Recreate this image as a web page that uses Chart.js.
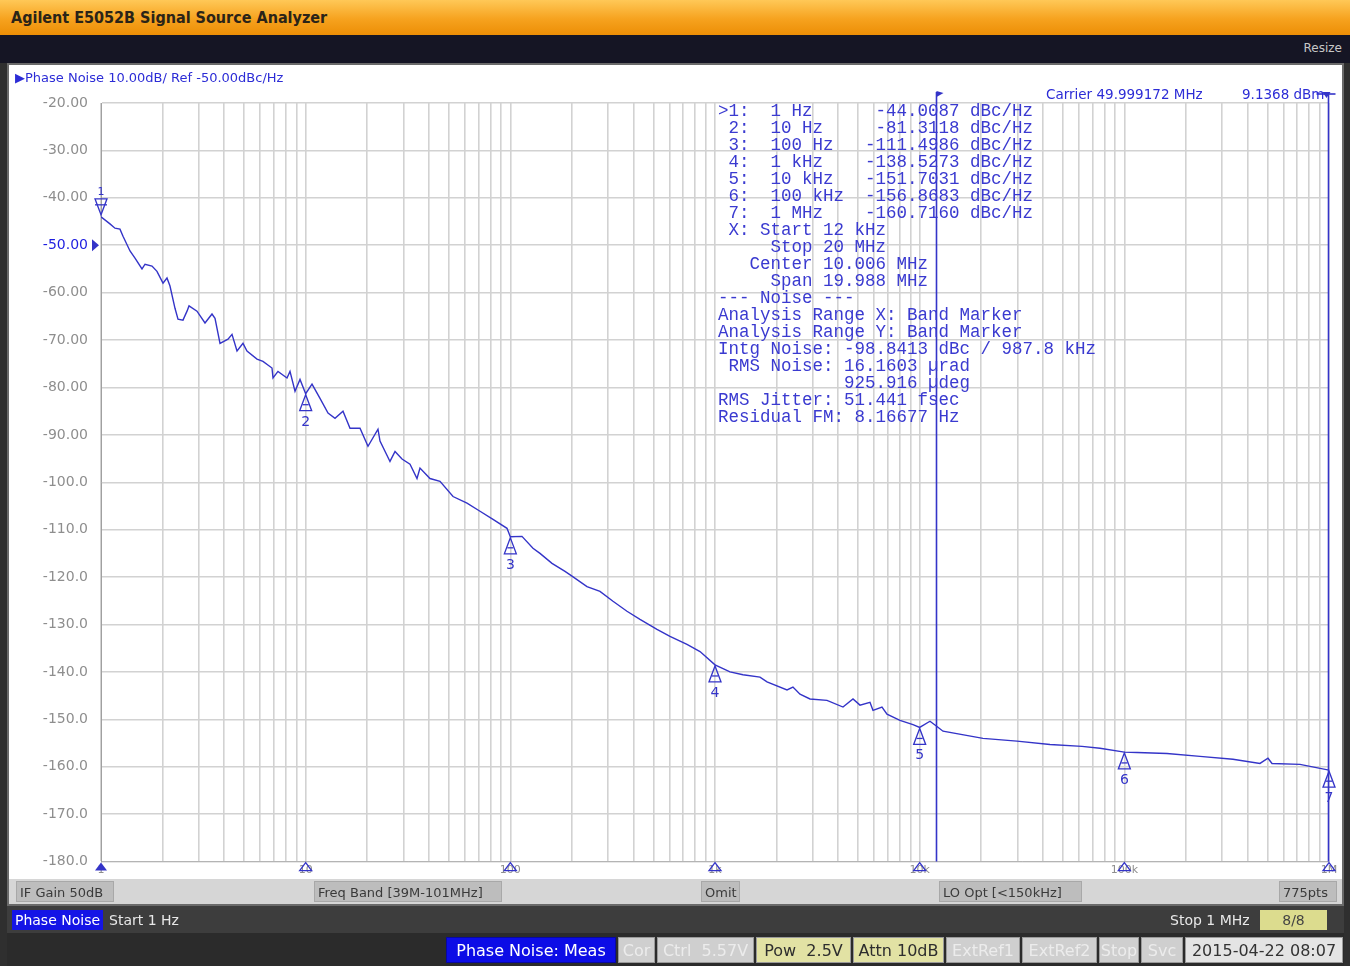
<!DOCTYPE html>
<html>
<head>
<meta charset="utf-8">
<title>E5052B Phase Noise</title>
<script src="https://cdn.jsdelivr.net/npm/chart.js@4.4.1/dist/chart.umd.min.js"></script>
<style>
  body { margin: 0; width: 1350px; height: 966px; background: #2f2f2f; position: relative; overflow: hidden; font-family: "DejaVu Sans", sans-serif; }
  .abs { position: absolute; box-sizing: border-box; white-space: pre; }
  #title { left: 0; top: 0; width: 1350px; height: 35px; background: linear-gradient(#ffc857, #f6a21e 55%, #ec8e06); }
  #title span { position: absolute; left: 11px; top: 8px; font: bold 16px "DejaVu Sans Condensed", "DejaVu Sans", sans-serif; color: #2b2418; }
  #menubar { left: 0; top: 35px; width: 1350px; height: 28px; background: #151524; }
  #menubar span { position: absolute; right: 8px; top: 6px; font-size: 12px; color: #c8c8c8; }
  #panel { left: 7px; top: 63px; width: 1337px; height: 843px; background: #fff; border: 2px solid #6a6a6a; }
  #status1 { left: 9px; top: 879px; width: 1333px; height: 25px; background: #d6d6d6; }
  .sbox { top: 881px; height: 21px; background: #bdbdbd; color: #3a3a3a; font-size: 13px; line-height: 21px; padding: 0 3px; border: 1px solid #a8a8a8; }
  #row2 { left: 7px; top: 906px; width: 1337px; height: 27px; background: #3d3d3d; }
  #row3 { left: 7px; top: 933px; width: 1337px; height: 33px; background: #2b2b2b; }
  .r2 { top: 910px; height: 20px; font-size: 14px; line-height: 20px; color: #e8e8e8; }
  .btn { top: 937px; height: 26px; font-size: 16px; line-height: 26px; text-align: center; background: #cfcfcf; color: #ececec; border: 1px solid #9a9a9a; }
  .btn.yel { background: #e2e2a4; color: #2e2e2e; }
  .btn.blue { background: #0c0ce6; color: #fff; border-color: #0808a0; }
  .btn.date { background: #e4e4e4; color: #333; }
  #hdr { left: 15px; top: 70px; font-size: 13px; color: #2c2cd6; }
  .carrier { top: 86px; font-size: 13.5px; color: #2c2cd6; }
  #mtable { left: 718px; top: 103px; margin: 0; font: 17.5px/17px "Liberation Mono", monospace; color: #3a3ad0; }
  #plot { position: absolute; left: 8px; top: 66px; }
</style>
</head>
<body>
<div class="abs" id="title"><span>Agilent E5052B Signal Source Analyzer</span></div>
<div class="abs" id="menubar"><span>Resize</span></div>
<div class="abs" id="panel"></div>
<canvas id="plot" width="1336" height="817"></canvas>
<div class="abs" id="hdr">▶Phase Noise 10.00dB/ Ref -50.00dBc/Hz</div>
<div class="abs carrier" style="left:1046px">Carrier 49.999172 MHz</div>
<div class="abs carrier" style="left:1242px">9.1368 dBm</div>
<pre class="abs" id="mtable">&gt;1:  1 Hz      -44.0087 dBc/Hz
 2:  10 Hz     -81.3118 dBc/Hz
 3:  100 Hz   -111.4986 dBc/Hz
 4:  1 kHz    -138.5273 dBc/Hz
 5:  10 kHz   -151.7031 dBc/Hz
 6:  100 kHz  -156.8683 dBc/Hz
 7:  1 MHz    -160.7160 dBc/Hz
 X: Start 12 kHz
     Stop 20 MHz
   Center 10.006 MHz
     Span 19.988 MHz
--- Noise ---
Analysis Range X: Band Marker
Analysis Range Y: Band Marker
Intg Noise: -98.8413 dBc / 987.8 kHz
 RMS Noise: 16.1603 µrad
            925.916 µdeg
RMS Jitter: 51.441 fsec
Residual FM: 8.16677 Hz</pre>

<div class="abs" id="status1"></div>
<div class="abs sbox" style="left:16px;width:98px">IF Gain 50dB</div>
<div class="abs sbox" style="left:314px;width:188px">Freq Band [39M-101MHz]</div>
<div class="abs sbox" style="left:701px;width:39px">Omit</div>
<div class="abs sbox" style="left:939px;width:143px">LO Opt [&lt;150kHz]</div>
<div class="abs sbox" style="left:1279px;width:58px">775pts</div>

<div class="abs" id="row2"></div>
<div class="abs r2" style="left:12px;width:91px;background:#1414e6;color:#fff;text-align:center">Phase Noise</div>
<div class="abs r2" style="left:109px">Start 1 Hz</div>
<div class="abs r2" style="left:1170px">Stop 1 MHz</div>
<div class="abs r2" style="left:1260px;width:67px;background:#dcdc8e;color:#444;text-align:center">8/8</div>

<div class="abs" id="row3"></div>
<div class="abs btn blue" style="left:446px;width:170px">Phase Noise: Meas</div>
<div class="abs btn" style="left:618px;width:37px">Cor</div>
<div class="abs btn" style="left:657px;width:97px">Ctrl  5.57V</div>
<div class="abs btn yel" style="left:756px;width:95px">Pow  2.5V</div>
<div class="abs btn yel" style="left:853px;width:91px">Attn 10dB</div>
<div class="abs btn" style="left:946px;width:74px">ExtRef1</div>
<div class="abs btn" style="left:1022px;width:75px">ExtRef2</div>
<div class="abs btn" style="left:1099px;width:40px">Stop</div>
<div class="abs btn" style="left:1141px;width:42px">Svc</div>
<div class="abs btn date" style="left:1185px;width:158px">2015-04-22 08:07</div>

<script>
// trace: offset frequency (Hz) and phase noise (dBc/Hz)
const freqs = [1, 1.106, 1.17, 1.238, 1.281, 1.386, 1.466, 1.586, 1.641, 1.775,
  1.877, 2.009, 2.101, 2.173, 2.299, 2.378, 2.515, 2.632, 2.692, 2.944,
  3.222, 3.486, 3.606, 3.815, 4.174, 4.366, 4.619, 4.94, 5.168, 5.783,
  6.186, 6.847, 6.924, 7.324, 8.106, 8.384, 8.87, 9.383, 10, 10.74,
  11.75, 12.86, 13.91, 15.22, 16.47, 18.43, 20.16, 22.56, 23.08, 25.82,
  27.33, 29.56, 32.35, 34.99, 36.19, 40.5, 45.33, 52.48, 61.42, 71.1,
  82.3, 96.3, 100, 114, 129, 139.6, 159.8, 185, 200.1, 236.9,
  274.2, 317.4, 371.5, 430.1, 520.7, 602.6, 729.7, 844.8, 1000, 1184,
  1370, 1659, 1795, 2248, 2404, 2602, 2912, 3526, 4221, 4723,
  5110, 5718, 5914, 6545, 6924, 8013, 9275, 10000, 11230, 12150,
  13000, 20390, 29890, 43320, 62110, 76030, 100000, 115300, 161600, 234200,
  339400, 460000, 503400, 526600, 721500, 1000000];
const noise = [-44.0, -45.5, -46.4, -46.6, -48.1, -51.2, -52.7, -55.0, -54.0, -54.4,
  -55.5, -58.0, -56.9, -58.6, -63.3, -65.6, -65.8, -63.9, -62.8, -63.9,
  -66.4, -64.5, -65.4, -70.7, -69.8, -68.8, -72.3, -70.7, -72.3, -74.0,
  -74.5, -75.9, -78.0, -76.6, -78.0, -76.6, -80.8, -78.3, -81.3, -79.3,
  -82.3, -85.4, -86.5, -85.0, -88.6, -88.6, -92.4, -88.8, -91.3, -95.6,
  -93.5, -95.1, -96.2, -99.2, -97.0, -99.2, -99.8, -103.0, -104.4, -106.1,
  -107.8, -109.7, -111.5, -111.4, -113.9, -115.0, -117.1, -118.8, -119.8, -122.0,
  -123.0, -125.1, -127.2, -128.9, -131.0, -132.5, -134.2, -135.7, -138.5, -140.0,
  -140.6, -141.1, -142.1, -143.8, -143.2, -144.7, -145.7, -146.0, -147.4, -145.7,
  -147.0, -146.4, -148.1, -147.4, -148.9, -150.2, -151.1, -151.7, -150.4, -151.5,
  -152.5, -154.0, -154.6, -155.3, -155.7, -156.1, -156.9, -157.0, -157.2, -157.8,
  -158.4, -159.3, -158.2, -159.3, -159.5, -160.7];

const markerFreqs = [1, 10, 100, 1e3, 1e4, 1e5, 1e6];
const markerLevels = [-44.0087, -81.3118, -111.4986, -138.5273, -151.7031, -156.8683, -160.7160];
const xDecades = [1, 10, 100, 1e3, 1e4, 1e5, 1e6];
const xTickLabels = ['1', '10', '100', '1k', '10k', '100k', '1M'];
const refLevel = -50;
const bandStart = 12000;   // 12 kHz, stop (20 MHz) is off screen -> right edge
const bandStop = 1e6;

const blue = '#3434c8';
const gridColor = '#d2d2d2';

// minor + major grid positions, 1..9 in every decade
const xGrid = [];
for (let k = 0; k < 6; k++) {
  for (let m = 1; m < 10; m++) xGrid.push(m * Math.pow(10, k));
}
xGrid.push(1e6);

const overlay = {
  id: 'overlay',
  afterDatasetsDraw(chart) {
    const { ctx, chartArea: a, scales: { x, y } } = chart;
    ctx.save();
    ctx.strokeStyle = blue;
    ctx.fillStyle = blue;
    ctx.lineWidth = 1.6;

    // band marker lines with their flags
    const xs = Math.round(x.getPixelForValue(bandStart)) + 0.5;
    const xe = Math.round(x.getPixelForValue(bandStop)) - 0.5;
    ctx.beginPath();
    ctx.moveTo(xs, a.top - 11); ctx.lineTo(xs, a.bottom);
    ctx.moveTo(xe, a.top - 9); ctx.lineTo(xe, a.bottom);
    ctx.stroke();
    ctx.beginPath();
    ctx.moveTo(xs, a.top - 12); ctx.lineTo(xs + 7, a.top - 10); ctx.lineTo(xs, a.top - 6);
    ctx.closePath(); ctx.fill();
    ctx.beginPath();
    ctx.moveTo(xe - 12, a.top - 9); ctx.lineTo(xe + 7, a.top - 9);
    ctx.stroke();
    ctx.beginPath();
    ctx.moveTo(xe - 6, a.top - 11); ctx.lineTo(xe + 2, a.top - 11); ctx.lineTo(xe - 2, a.top - 5);
    ctx.closePath(); ctx.fill();

    // reference level pointer
    const yr = y.getPixelForValue(refLevel);
    ctx.beginPath();
    ctx.moveTo(a.left - 9, yr - 6); ctx.lineTo(a.left - 2, yr); ctx.lineTo(a.left - 9, yr + 6);
    ctx.closePath(); ctx.fill();

    // trace markers
    ctx.lineWidth = 1.3;
    ctx.font = '14px "DejaVu Sans", sans-serif';
    ctx.textAlign = 'center';
    markerFreqs.forEach((f, i) => {
      const px = x.getPixelForValue(f);
      const py = y.getPixelForValue(markerLevels[i]);
      ctx.beginPath();
      if (i === 0) {
        ctx.moveTo(px, py - 2); ctx.lineTo(px - 6, py - 18); ctx.lineTo(px + 6, py - 18);
        ctx.closePath(); ctx.stroke();
        ctx.beginPath(); ctx.moveTo(px - 6, py - 12); ctx.lineTo(px + 6, py - 12); ctx.stroke();
        ctx.font = '11px "DejaVu Sans", sans-serif';
        ctx.fillText(String(i + 1), px, py - 22);
        ctx.font = '14px "DejaVu Sans", sans-serif';
      } else {
        ctx.moveTo(px, py + 1); ctx.lineTo(px - 6, py + 17); ctx.lineTo(px + 6, py + 17);
        ctx.closePath(); ctx.stroke();
        ctx.beginPath(); ctx.moveTo(px - 3, py + 11); ctx.lineTo(px + 3, py + 11); ctx.stroke();
        ctx.fillText(String(i + 1), px, py + 32);
      }
      // position indicator on the frequency axis
      ctx.beginPath();
      ctx.moveTo(px, a.bottom + 1); ctx.lineTo(px - 6, a.bottom + 9); ctx.lineTo(px + 6, a.bottom + 9);
      ctx.closePath();
      if (i === 0) ctx.fill(); else ctx.stroke();
    });
    ctx.restore();
  }
};

new Chart(document.getElementById('plot'), {
  type: 'line',
  data: {
    datasets: [{
      data: freqs.map((f, i) => ({ x: f, y: noise[i] })),
      borderColor: blue,
      borderWidth: 1.4,
      pointRadius: 0,
      tension: 0,
      fill: false,
    }],
  },
  options: {
    responsive: false,
    animation: false,
    events: [],
    layout: { padding: { left: 0, top: 37, right: 15, bottom: 0 } },
    plugins: { legend: { display: false }, tooltip: { enabled: false } },
    scales: {
      x: {
        type: 'logarithmic',
        min: 1,
        max: 1e6,
        afterBuildTicks: (scale) => { scale.ticks = xGrid.map((v) => ({ value: v })); },
        afterFit: (scale) => { scale.height = 13; },
        grid: { color: gridColor, lineWidth: 1.6, drawTicks: false },
        border: { color: '#b4b4b4' },
        ticks: {
          autoSkip: false,
          maxRotation: 0,
          padding: 2,
          color: '#8e8e8e',
          font: { family: 'DejaVu Sans', size: 11 },
          callback: (v) => { const i = xDecades.indexOf(v); return i >= 0 ? xTickLabels[i] : ''; },
        },
      },
      y: {
        min: -180,
        max: -20,
        afterFit: (scale) => { scale.width = 93; },
        grid: { color: gridColor, lineWidth: 1.6, drawTicks: false },
        border: { color: '#a0a0a0' },
        ticks: {
          stepSize: 10,
          padding: 13,
          color: (c) => (c.tick.value === refLevel ? '#1e1ee0' : '#8e8e8e'),
          font: { family: 'DejaVu Sans', size: 14 },
          callback: (v) => (v <= -100 ? v.toFixed(1) : v.toFixed(2)),
        },
      },
    },
  },
  plugins: [overlay],
});
</script>
</body>
</html>
